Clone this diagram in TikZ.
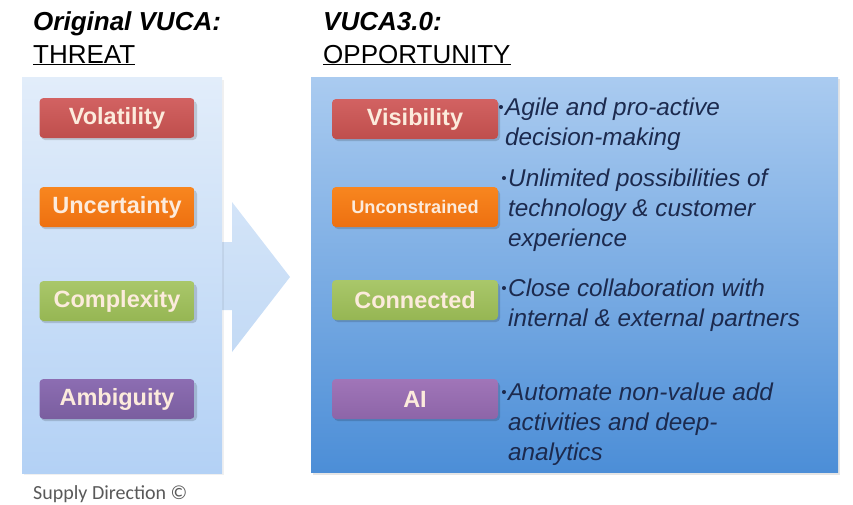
\documentclass[tikz,border=0pt]{standalone}
\usepackage{fontspec}
\setmainfont{Liberation Sans}
\newfontfamily\carl{Carlito}
\usetikzlibrary{shapes.geometric}
\definecolor{lpTop}{HTML}{E2EDFA}
\definecolor{lpBot}{HTML}{B3D1F5}
\definecolor{rpTop}{HTML}{AACBF0}
\definecolor{rpBot}{HTML}{4C8ED7}
\definecolor{redA}{HTML}{D26262}
\definecolor{redB}{HTML}{BF4E4C}
\definecolor{orA}{HTML}{F8861F}
\definecolor{orB}{HTML}{EE7010}
\definecolor{grA}{HTML}{A9C76A}
\definecolor{grB}{HTML}{96B653}
\definecolor{puA}{HTML}{8C6DB2}
\definecolor{puB}{HTML}{7A5E9F}
\definecolor{aiA}{HTML}{A075B8}
\definecolor{aiB}{HTML}{8D65A8}
\definecolor{pillText}{HTML}{FCEBDC}
\definecolor{navy}{HTML}{1C2A4E}
\definecolor{arrowA}{HTML}{D3E4F8}
\definecolor{arrowB}{HTML}{C3DAF5}
\newcommand{\smallbul}{\llap{\raisebox{3pt}{\fontsize{15}{15}\selectfont\textbullet}\hspace{1.5pt}}}
\tikzset{
  pill/.style={rounded corners=4pt, minimum width=155pt, minimum height=40pt,
    inner sep=0pt, text=pillText, font=\fontsize{23.5}{26}\selectfont\bfseries},
  pillshadow/.style={fill=black, opacity=0.15, rounded corners=4pt},
  desc/.style={anchor=base west, align=left, inner sep=0pt, text=navy,
    font=\fontsize{24.3}{30}\selectfont\itshape},
  title/.style={anchor=base west, inner sep=0pt, text=black,
    font=\fontsize{26}{30}\selectfont},
  btitle/.style={title, font=\fontsize{26}{30}\selectfont\bfseries\itshape},
}
\begin{document}
\begin{tikzpicture}[x=1pt,y=-1pt]
\useasboundingbox (0,0) rectangle (853,504);
% arrow
\shade[top color=arrowA, bottom color=arrowB]
  (200,242) -- (232,242) -- (232,202) -- (290,277) -- (232,352) -- (232,310) -- (200,310) -- cycle;
% left panel
\fill[black, opacity=0.06] (24,80) rectangle (224,475);
\shade[top color=lpTop, bottom color=lpBot] (22,77) rectangle (222,473);
% right panel
\fill[black, opacity=0.10] (313,79) rectangle (840,475);
\shade[top color=rpTop, bottom color=rpBot] (311,77) rectangle (838,472);
% titles
\node[btitle] (t1) at (33,30) {Original VUCA:};
\node[title] (t2) at (33,63) {\underline{THREAT}};
\node[btitle] (t3) at (323,30) {VUCA3.0:};
\node[title] (t4) at (323,63) {\underline{OPPORTUNITY}};
% left pills
\foreach \y/\ca/\cb/\txt/\nm in {118/redA/redB/Volatility/v, 207/orA/orB/Uncertainty/u, 301/grA/grB/Complexity/c, 399/puA/puB/Ambiguity/a}{
  \fill[pillshadow] (41,\y-17) rectangle (197,\y+22);
  \node[pill, top color=\ca, bottom color=\cb] (l\nm) at (117,\y) {\txt};
}
% right pills
\foreach \y/\ca/\cb/\txt/\nm in {119/redA/redB/Visibility/v, 207/orA/orB/{\fontsize{18.2}{20}\selectfont Unconstrained}/u, 300/grA/grB/Connected/c, 399/aiA/aiB/AI/a}{
  \fill[pillshadow] (334,\y-17) rectangle (500,\y+22);
  \node[pill, minimum width=166pt, top color=\ca, bottom color=\cb] (r\nm) at (415,\y) {\txt};
}
% descriptions (base anchor = last line's baseline)
\node[desc] (d1) at (505,145) {\smallbul Agile and pro-active\\decision-making};
\node[desc] (d2) at (508,246) {\smallbul Unlimited possibilities of\\technology \& customer\\experience};
\node[desc] (d3) at (508,326) {\smallbul Close collaboration with\\internal \& external partners};
\node[desc] (d4) at (508,460) {\smallbul Automate non-value add\\activities and deep-\\analytics};
% footer
\node[anchor=base west, inner sep=0pt, text=black!65, font=\carl\fontsize{20}{24}\selectfont] (f) at (33,499) {Supply Direction ©};
\end{tikzpicture}
\end{document}
